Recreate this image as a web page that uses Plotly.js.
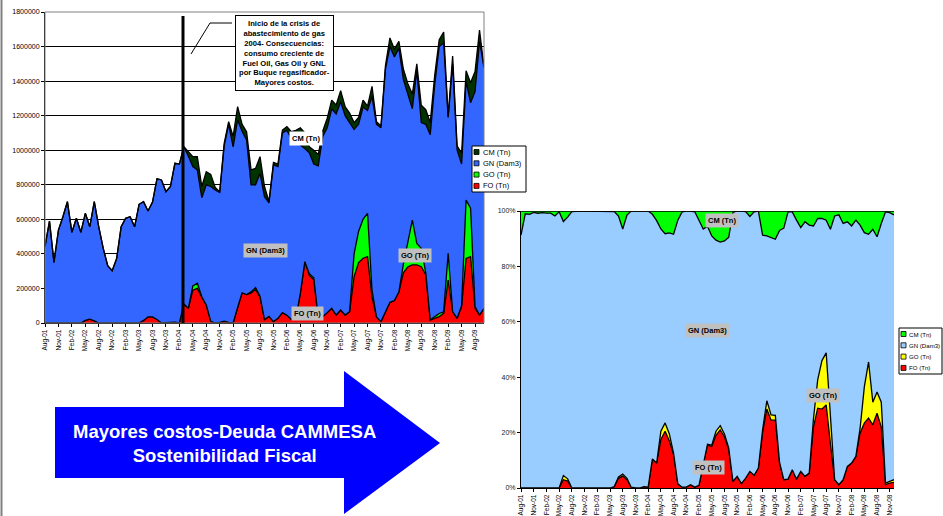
<!DOCTYPE html>
<html>
<head>
<meta charset="utf-8">
<script src="https://cdn.plot.ly/plotly-3.0.1.min.js"></script>
<style>html,body{margin:0;padding:0;background:#fff;}#chart{width:943px;height:516px;}</style>
</head>
<body>
<div id="chart"></div>
<script>
// ---- categories (monthly, Aug-01 .. Oct-09) ----
const months = [
 "Aug-01","Sep-01","Oct-01","Nov-01","Dec-01",
 "Jan-02","Feb-02","Mar-02","Apr-02","May-02","Jun-02","Jul-02","Aug-02","Sep-02","Oct-02","Nov-02","Dec-02",
 "Jan-03","Feb-03","Mar-03","Apr-03","May-03","Jun-03","Jul-03","Aug-03","Sep-03","Oct-03","Nov-03","Dec-03",
 "Jan-04","Feb-04","Mar-04","Apr-04","May-04","Jun-04","Jul-04","Aug-04","Sep-04","Oct-04","Nov-04","Dec-04",
 "Jan-05","Feb-05","Mar-05","Apr-05","May-05","Jun-05","Jul-05","Aug-05","Sep-05","Oct-05","Nov-05","Dec-05",
 "Jan-06","Feb-06","Mar-06","Apr-06","May-06","Jun-06","Jul-06","Aug-06","Sep-06","Oct-06","Nov-06","Dec-06",
 "Jan-07","Feb-07","Mar-07","Apr-07","May-07","Jun-07","Jul-07","Aug-07","Sep-07","Oct-07","Nov-07","Dec-07",
 "Jan-08","Feb-08","Mar-08","Apr-08","May-08","Jun-08","Jul-08","Aug-08","Sep-08","Oct-08","Nov-08","Dec-08",
 "Jan-09","Feb-09","Mar-09","Apr-09","May-09","Jun-09","Jul-09","Aug-09","Sep-09","Oct-09"
];
const monthsRight = months.slice(0, 89); // Aug-01 .. Dec-08

const leftTicks = ["Aug-01","Nov-01","Feb-02","May-02","Aug-02","Nov-02","Feb-03","May-03","Aug-03","Nov-03",
 "Feb-04","May-04","Aug-04","Nov-04","Feb-05","May-05","Aug-05","Nov-05","Feb-06","May-06","Aug-06","Nov-06",
 "Feb-07","May-07","Aug-07","Nov-07","Feb-08","May-08","Aug-08","Nov-08","Feb-09","May-09","Aug-09"];
const rightTicks = ["Aug-01","Nov-01","Feb-02","May-02","Aug-02","Nov-02","Feb-03","May-03","Aug-03","Nov-03",
 "Feb-04","May-04","Aug-04","Nov-04","Feb-05","May-05","Aug-05","Nov-05","Feb-06","May-06","Aug-06","Nov-06",
 "Feb-07","May-07","Aug-07","Nov-07","Feb-08","May-08","Aug-08","Nov-08"];
const leftYTicks = [0,200000,400000,600000,800000,1000000,1200000,1400000,1600000,1800000];
const rightYTicks = [0,20,40,60,80,100];
const rightYText = ["0%","20%","40%","60%","80%","100%"];

const seriesNames = ["CM (Tn)","GN (Dam3)","GO (Tn)","FO (Tn)"];
const leftColors = ["#003300","#3366FF","#00FF00","#FF0000"];
const rightColors = ["#00FF00","#99CCFF","#FFFF00","#FF0000"];

// ---- left chart: absolute consumption ----
const foL = [0,0,0,0,0,0,0,0,0,15000,
 22000,12000,0,0,0,0,0,0,0,0,
 0,0,15000,35000,35000,20000,0,0,3000,5000,
 0,110000,85000,190000,200000,150000,104000,10000,0,3000,
 10000,3000,0,90000,175000,165000,172000,195000,150000,20000,
 38000,8000,27000,60000,45000,20000,30000,172000,355000,275000,
 250000,30000,37000,60000,85000,46000,75000,46000,66000,268000,
 350000,375000,384000,150000,35000,8000,66000,120000,130000,180000,
 290000,325000,336000,336000,326000,280000,17000,27000,37000,56000,
 249000,66000,27000,95000,374000,384000,85000,46000,85000];
const goL = [0,0,0,0,0,0,0,0,0,0,
 0,0,0,0,0,0,0,0,0,0,
 0,0,0,0,0,0,0,0,0,0,
 0,0,0,25000,30000,2000,0,0,0,0,
 0,0,0,0,0,0,8000,10000,5000,0,
 0,0,0,0,0,0,0,0,0,10000,
 12000,0,0,0,0,0,0,0,0,132000,
 180000,225000,251000,40000,0,0,0,0,0,0,
 50000,145000,260000,125000,106000,10000,0,10000,18000,9000,
 154000,0,0,5000,338000,280000,10000,0,0];
const gnL = [442000,590000,351000,538000,615000,702000,525000,606000,525000,620000,
 535000,690000,557000,432000,332000,303000,374000,557000,606000,615000,
 557000,687000,687000,613000,665000,815000,828000,760000,787000,919000,
 920000,910000,880000,690000,656000,573000,696000,780000,770000,752000,
 1015000,1147000,1020000,1085000,935000,894000,620000,595000,711000,711000,
 657000,907000,878000,1040000,1070000,1048000,1030000,858000,655000,700000,
 658000,880000,1043000,1070000,1155000,1164000,1205000,1154000,1094000,720000,
 620000,650000,595000,1120000,1115000,1122000,1404000,1480000,1410000,1410000,
 1070000,850000,644000,999000,728000,860000,1073000,1343000,1545000,1555000,
 787000,1434000,973000,820000,688000,611000,1245000,1584000,1395000];
const cmL = [0,0,0,0,0,0,0,0,0,0,
 0,0,0,0,0,0,0,0,0,0,
 0,0,0,0,0,0,0,0,0,0,
 0,0,27000,58000,77000,65000,76000,70000,15000,5000,
 15000,15000,60000,77000,40000,48000,86000,95000,97000,59000,
 8000,15000,15000,17000,21000,39000,55000,100000,90000,35000,
 80000,65000,30000,55000,50000,52000,65000,52000,55000,40000,
 40000,40000,25000,60000,15000,12000,20000,50000,45000,40000,
 60000,65000,85000,40000,100000,85000,70000,55000,40000,64000,
 5000,45000,25000,62000,60000,115000,115000,65000,0];

// ---- right chart: shares (%) ----
const foR = [0,0,0,0,0,0,0,0,0,0,
 3,2.5,0,0,0,0,0,0,0,0,
 0,0,0.5,3.5,4.3,3,0.3,0,0,0.5,
 0.3,10.5,9,17.5,20.5,17,12,1.5,0.3,0.3,
 1.2,0.3,1,9,15.5,15,19,21,18.5,14,
 2.4,4.2,1.6,3.6,6,4.6,7.2,20,28.5,24.5,
 24.5,9,3,3.2,6.6,3.2,6,4.2,5.4,22,
 28.8,28.5,30,16,3,1.2,3,7.8,9,11.4,
 19.8,23.4,25.2,22.8,27,22,1.2,1.8,2];
const goR = [0,0,0,0,0,0,0,0,0,0,
 1.5,0.8,0,0,0,0,0,0,0,0,
 0,0,0,0.5,0.7,0.5,0,0,0,0,
 0,0,0,3,3,2.5,0.5,0,0,0,
 0,0,0,0,0.3,0.5,1.5,1.5,1,0.5,
 0,0,0,0,0,0,0,1,3,1.9,
 1.7,0.2,0,0,0,0,0,0,0,3,
 10.2,17.5,18.8,10,0,0,0,0,0,0,
 1.7,13.1,20.3,8.2,7.7,9,0.6,0.6,1];
const gnR = [91.3,99,98.8,99.5,99.2,99.4,99.2,99.2,98.2,99.7,
 91.7,94.5,99.8,100,100,100,100,100,100,100,
 100,100,99.3,94.2,88.5,95,99.7,100,100,99.5,
 99.7,88.3,87.5,73,68.3,72.6,79.1,95.2,99.4,99.7,
 98.8,99.4,95.5,84.5,78.7,75.5,69,66.3,69.7,76,
 97.1,95.8,98.4,96.2,92,95.1,92.8,70.3,59.5,64.1,
 63.6,83.8,90.8,96.5,93.1,93.5,88,91.9,89.5,69.6,
 58.3,51.3,47.9,67.4,95.2,97.4,92.5,88.3,85.6,85.3,
 73.4,55.7,46.1,62.4,56,64.5,97.9,97,95.6];
const cmR = [8.7,1,1.2,0.5,0.8,0.6,0.8,0.8,1.8,0.3,
 3.8,2.2,0.2,0,0,0,0,0,0,0,
 0,0,0.2,1.8,6.5,1.5,0,0,0,0,
 0,1.2,3.5,6.5,8.2,7.9,8.4,3.3,0.3,0,
 0,0.3,3.5,6.5,5.5,9,10.5,11.2,10.8,9.5,
 0.5,0,0,0.2,2,0.3,0,8.7,9,9.5,
 10.2,7,6.2,0.3,0.3,3.3,6,3.9,5.1,5.4,
 2.7,2.7,3.3,6.6,1.8,1.4,4.5,3.9,5.4,3.3,
 5.1,7.8,8.4,6.6,9.3,4.5,0.3,0.6,1.4];

// ---- drawing ----
const W = 943, H = 516;
const px = v => v / W;
const py = v => 1 - v / H;
const FONT = "Liberation Sans, Arial, sans-serif";
const OUT = {color: "#000000", width: 1.3};

function area(x, y, name, fill, xa, ya, stack) {
  return {type: "scatter", mode: "lines", x: x, y: y, name: name,
    stackgroup: stack, fillcolor: fill, line: OUT,
    xaxis: xa, yaxis: ya, showlegend: false, hoverinfo: "skip"};
}

const data = [
  area(months, foL, seriesNames[3], leftColors[3], "x", "y", "L"),
  area(months, goL, seriesNames[2], leftColors[2], "x", "y", "L"),
  area(months, gnL, seriesNames[1], leftColors[1], "x", "y", "L"),
  area(months, cmL, seriesNames[0], leftColors[0], "x", "y", "L"),
  area(monthsRight, foR, seriesNames[3], rightColors[3], "x2", "y2", "R"),
  area(monthsRight, goR, seriesNames[2], rightColors[2], "x2", "y2", "R"),
  area(monthsRight, gnR, seriesNames[1], rightColors[1], "x2", "y2", "R"),
  area(monthsRight, cmR, seriesNames[0], rightColors[0], "x2", "y2", "R")
];

function lbl(text, x, y, bg) {
  return {xref: "paper", yref: "paper", x: px(x), y: py(y), xanchor: "center", yanchor: "middle",
    text: "<b>" + text + "</b>", showarrow: false, bgcolor: bg, borderpad: 2,
    font: {family: FONT, size: 7.5, color: "#000000"}};
}

const arrowPath = "M " + px(55) + "," + py(407) + " L " + px(344) + "," + py(407) +
  " L " + px(344) + "," + py(371) + " L " + px(440) + "," + py(443) +
  " L " + px(344) + "," + py(514) + " L " + px(344) + "," + py(478) +
  " L " + px(55) + "," + py(478) + " Z";
const calloutPath = "M " + px(232) + "," + py(23) + " L " + px(210) + "," + py(23) +
  " L " + px(191) + "," + py(54);

const shapes = [
  {type: "line", xref: "paper", yref: "paper", x0: px(1.5), x1: px(1.5), y0: 0, y1: 1,
    line: {color: "#808080", width: 2}},
  {type: "rect", xref: "paper", yref: "paper", x0: px(45), x1: px(484), y0: py(323), y1: py(12),
    line: {color: "#808080", width: 1}, fillcolor: "rgba(0,0,0,0)"},
  {type: "line", xref: "paper", yref: "paper", x0: px(183), x1: px(183), y0: py(16), y1: py(323),
    line: {color: "#000000", width: 3}},
  {type: "path", xref: "paper", yref: "paper", path: calloutPath, line: {color: "#000", width: 1}},
  {type: "path", xref: "paper", yref: "paper", path: arrowPath, fillcolor: "#0000FF",
    line: {color: "#0000FF", width: 0}}
];
const annotations = [
  {xref: "paper", yref: "paper", x: px(284), y: py(53), xanchor: "center", yanchor: "middle",
    text: "<b>Inicio de la crisis de<br>abastecimiento de gas<br>2004- Consecuencias:<br>consumo creciente de<br>Fuel Oil, Gas Oil y GNL<br>por Buque regasificador-<br>Mayores costos.</b>",
    showarrow: false, bgcolor: "#FFFFFF", bordercolor: "#000", borderwidth: 1, borderpad: 3,
    font: {family: FONT, size: 7.6, color: "#000"}},
  lbl("CM (Tn)", 306, 138.5, "#FFFFFF"),
  lbl("GN (Dam3)", 265, 250, "#C0C0C0"),
  lbl("GO (Tn)", 415, 255.5, "#C0C0C0"),
  lbl("FO (Tn)", 307, 313.5, "#C0C0C0"),
  lbl("CM (Tn)", 722, 220, "#C0C0C0"),
  lbl("GN (Dam3)", 707.5, 330.5, "#C0C0C0"),
  lbl("GO (Tn)", 822.5, 395, "#C0C0C0"),
  lbl("FO (Tn)", 708.5, 467.5, "#C0C0C0"),
  {xref: "paper", yref: "paper", x: px(224), y: py(443.5), xanchor: "center", yanchor: "middle",
    text: "<b>Mayores costos-Deuda CAMMESA<br>Sostenibilidad Fiscal</b>", showarrow: false,
    font: {family: FONT, size: 18.5, color: "#FFFFFF"}}
];

// legend boxes (drawn as shapes + text so they sit like the original's)
function addLegend(x0, y0, w, colors, fs, tx) {
  shapes.push({type: "rect", xref: "paper", yref: "paper", x0: px(x0), x1: px(x0 + w),
    y0: py(y0 + 46), y1: py(y0), line: {color: "#000", width: 1}, fillcolor: "#FFFFFF"});
  for (let k = 0; k < seriesNames.length; k++) {
    const cy = y0 + 6 + k * 11.3;
    shapes.push({type: "rect", xref: "paper", yref: "paper", x0: px(x0 + 2), x1: px(x0 + 7),
      y0: py(cy + 2.5), y1: py(cy - 2.5), line: {color: "#000", width: 0.8}, fillcolor: colors[k]});
    annotations.push({xref: "paper", yref: "paper", x: px(x0 + tx), y: py(cy), xanchor: "left",
      yanchor: "middle", text: seriesNames[k], showarrow: false,
      font: {family: FONT, size: fs, color: "#000"}});
  }
}
addLegend(472, 146, 54, leftColors, 7.5, 8.5);
addLegend(899, 328, 43, rightColors, 6.1, 7.5);

const layout = {
  width: W, height: H,
  margin: {l: 0, r: 0, t: 0, b: 0},
  paper_bgcolor: "#FFFFFF", plot_bgcolor: "#FFFFFF",
  font: {family: FONT, color: "#000000"},
  showlegend: false,
  xaxis: {domain: [px(45), px(484)], anchor: "y", type: "category", range: [0, 98],
    tickmode: "array", tickvals: leftTicks, ticktext: leftTicks, tickangle: -90,
    tickfont: {size: 6.5, family: FONT, color: "#000"}, ticks: "outside", ticklen: 3, tickcolor: "#000",
    showline: true, linecolor: "#000", linewidth: 1, showgrid: false, zeroline: false},
  yaxis: {domain: [py(323), py(12)], anchor: "x", range: [0, 1800000],
    tickmode: "array", tickvals: leftYTicks, tickformat: "d",
    tickfont: {size: 7, family: FONT, color: "#000"}, ticks: "outside", ticklen: 3, tickcolor: "#000",
    showline: true, linecolor: "#000", linewidth: 1, showgrid: true, gridcolor: "#000", gridwidth: 1,
    zeroline: false},
  xaxis2: {domain: [px(521), px(894)], anchor: "y2", type: "category", range: [0, 88],
    tickmode: "array", tickvals: rightTicks, ticktext: rightTicks, tickangle: -90,
    tickfont: {size: 6.5, family: FONT, color: "#000"}, ticks: "outside", ticklen: 3, tickcolor: "#000",
    showline: true, linecolor: "#000", linewidth: 1, showgrid: false, zeroline: false},
  yaxis2: {domain: [py(488), py(211)], anchor: "x2", range: [0, 100],
    tickmode: "array", tickvals: rightYTicks, ticktext: rightYText,
    tickfont: {size: 7, family: FONT, color: "#222"}, ticks: "outside", ticklen: 3, tickcolor: "#000",
    showline: true, linecolor: "#000", linewidth: 1, showgrid: false, zeroline: false},
  shapes: shapes,
  annotations: annotations
};

Plotly.newPlot("chart", data, layout, {displayModeBar: false, staticPlot: true});
</script>
</body>
</html>
